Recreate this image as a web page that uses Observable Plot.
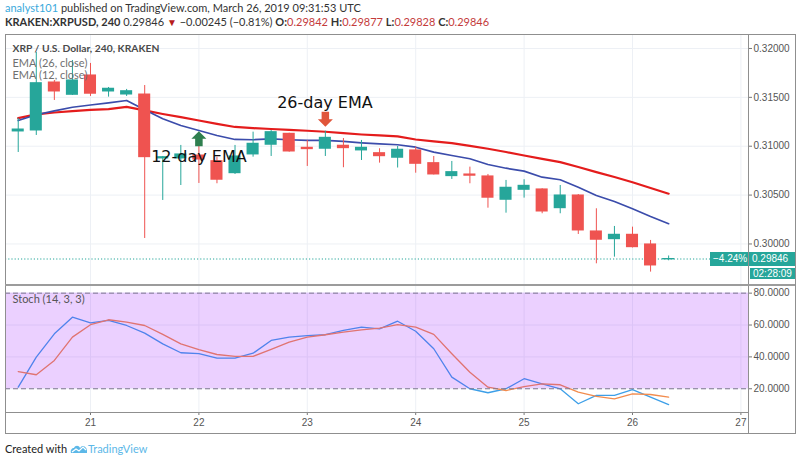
<!DOCTYPE html>
<html><head><meta charset="utf-8">
<script src="https://cdn.jsdelivr.net/npm/d3@7"></script>
<script src="https://cdn.jsdelivr.net/npm/@observablehq/plot@0.6"></script>
<style>
body{margin:0;background:#fff;}
#wrap{position:relative;width:800px;height:462px;overflow:hidden;font-family:Lato,sans-serif;background:#fff;}
.abs{position:absolute;}
.hdr{position:absolute;left:5px;font-size:11px;line-height:14px;color:#333;white-space:nowrap;}
.red{color:#c43b3b;}
.line{position:absolute;background:#8f8f8f;z-index:5;}
.box{position:absolute;background:#26a69a;color:#fff;font:10px "Liberation Sans",sans-serif;line-height:14px;white-space:nowrap;z-index:6;}
</style></head><body>
<div id="wrap">
  <div class="hdr" style="top:1px"><span style="color:#3aa9dc">analyst101</span> published on TradingView.com, March 26, 2019 09:31:53 UTC</div>
  <div class="hdr" style="top:15px"><b>KRAKEN:XRPUSD, 240</b> 0.29846 <span style="color:#b71c1c;font-size:10px">&#9660;</span> &minus;0.00245 (&minus;0.81%) <b>O:</b><span class="red">0.29842</span> <b>H:</b><span class="red">0.29877</span> <b>L:</b><span class="red">0.29828</span> <b>C:</b><span class="red">0.29846</span></div>
  <div id="price" class="abs" style="left:0;top:34px"></div>
  <div id="stoch" class="abs" style="left:0;top:285px"></div>
  <div class="line" style="left:5px;top:34px;width:790px;height:1px"></div>
  <div class="line" style="left:5px;top:433px;width:791px;height:1px"></div>
  <div class="line" style="left:5px;top:34px;width:1px;height:400px"></div>
  <div class="line" style="left:795px;top:34px;width:1px;height:400px"></div>
  <div class="line" style="left:748px;top:34px;width:1px;height:400px"></div>
  <div class="line" style="left:5px;top:284px;width:790px;height:2px;background:#9c9c9c"></div>
  <div class="line" style="left:5px;top:412px;width:743px;height:1px"></div>
  <div class="abs" style="left:5px;top:442px;font-size:11px;line-height:14px;color:#222;white-space:nowrap">Created with
    <svg width="18" height="11" viewBox="0 0 18 11" style="vertical-align:-1px"><path d="M1 10 C0 7 2 5 4 5 C5 2 9 2 10 5 L12 3 C15 3 17 5 17 8 L17 10 Z" fill="#5cb8e8"/><path d="M2 9 L6 6 L9 8 L13 4 L16 7" stroke="#fff" stroke-width="1.2" fill="none"/></svg><span style="color:#5cb8e8">TradingView</span></div>
</div>
<script>
const times = ["2019-03-20T08:00Z","2019-03-20T12:00Z","2019-03-20T16:00Z","2019-03-20T20:00Z",
"2019-03-21T00:00Z","2019-03-21T04:00Z","2019-03-21T08:00Z","2019-03-21T12:00Z","2019-03-21T16:00Z","2019-03-21T20:00Z",
"2019-03-22T00:00Z","2019-03-22T04:00Z","2019-03-22T08:00Z","2019-03-22T12:00Z","2019-03-22T16:00Z","2019-03-22T20:00Z",
"2019-03-23T00:00Z","2019-03-23T04:00Z","2019-03-23T08:00Z","2019-03-23T12:00Z","2019-03-23T16:00Z","2019-03-23T20:00Z",
"2019-03-24T00:00Z","2019-03-24T04:00Z","2019-03-24T08:00Z","2019-03-24T12:00Z","2019-03-24T16:00Z","2019-03-24T20:00Z",
"2019-03-25T00:00Z","2019-03-25T04:00Z","2019-03-25T08:00Z","2019-03-25T12:00Z","2019-03-25T16:00Z","2019-03-25T20:00Z",
"2019-03-26T00:00Z","2019-03-26T04:00Z","2019-03-26T08:00Z"];
const open = [0.31151,0.31161,0.31652,0.31526,0.31724,0.31560,0.31529,0.31529,0.30875,0.30875,0.30905,0.30847,0.30724,0.30916,0.31015,0.31127,0.30984,0.30974,0.31005,0.30957,0.30929,0.30882,0.30957,0.30827,0.30694,0.30711,0.30691,0.30452,0.30554,0.30558,0.30366,0.30496,0.30128,0.30049,0.30094,0.29995,0.29842];
const high = [0.31284,0.31959,0.31673,0.31877,0.31847,0.31601,0.31581,0.31621,0.30895,0.31008,0.31008,0.30888,0.31008,0.31144,0.31161,0.31133,0.31059,0.31154,0.31079,0.31059,0.30974,0.30997,0.30990,0.30895,0.30844,0.30786,0.30711,0.30650,0.30657,0.30565,0.30598,0.30506,0.30360,0.30179,0.30172,0.30036,0.29877];
const low = [0.30936,0.31110,0.31468,0.31519,0.31509,0.31502,0.31509,0.30056,0.30445,0.30598,0.30619,0.30616,0.30711,0.30888,0.30895,0.30939,0.30793,0.30895,0.30780,0.30854,0.30827,0.30777,0.30724,0.30706,0.30660,0.30616,0.30366,0.30315,0.30469,0.30309,0.30309,0.30097,0.29797,0.29865,0.29959,0.29712,0.29828];
const close = [0.31171,0.31645,0.31560,0.31673,0.31537,0.31588,0.31563,0.30888,0.30888,0.30916,0.30864,0.30657,0.30895,0.31025,0.31144,0.30946,0.30970,0.31086,0.30980,0.30984,0.30898,0.30964,0.30820,0.30711,0.30735,0.30698,0.30473,0.30575,0.30595,0.30332,0.30496,0.30138,0.30043,0.30094,0.29967,0.29780,0.29846];
const ema26 = [0.31287,0.31325,0.31345,0.31359,0.31371,0.31379,0.31402,0.31366,0.31330,0.31297,0.31263,0.31228,0.31197,0.31185,0.31176,0.31168,0.31158,0.31148,0.31133,0.31120,0.31110,0.31100,0.31069,0.31049,0.31031,0.31003,0.30974,0.30941,0.30905,0.30870,0.30837,0.30788,0.30735,0.30685,0.30632,0.30573,0.30514];
const ema12 = [0.31263,0.31322,0.31361,0.31399,0.31422,0.31444,0.31468,0.31373,0.31281,0.31212,0.31161,0.31110,0.31069,0.31066,0.31076,0.31066,0.31059,0.31059,0.31049,0.31035,0.31023,0.31015,0.30990,0.30939,0.30905,0.30872,0.30813,0.30775,0.30745,0.30683,0.30657,0.30581,0.30496,0.30435,0.30360,0.30281,0.30207];
const stochK = [21,39.8,54.5,64.9,61.4,62.9,59.7,54.9,48.2,42.6,42,39.2,39.2,42.3,50.3,52.4,53.4,53.9,56.6,58.7,57.6,62.4,56.1,45.1,27.3,20,17.5,20,26.3,23.1,20,10.6,15.8,15.8,19.4,14.7,10.1];
const stochD = [30.8,28.8,37.8,52.4,60.2,63.3,61.8,59.7,54.1,48.2,44.5,41.5,40.3,40.3,44.7,49.2,52.4,53.9,55.5,57,58,60.2,58.7,54.1,42,30.4,21,18.9,21.4,23.1,22.5,17.9,15.2,13.7,16.8,16.4,14.7];
const dayTicks = ["2019-03-21","2019-03-22","2019-03-23","2019-03-24","2019-03-25","2019-03-26","2019-03-27"];
const dayLabels = ["21","22","23","24","25","26","27"];
const priceTicks = [0.300,0.305,0.310,0.315,0.320];
const stochTicks = [20,40,60,80];
const lastPrice = 0.29846, changePct = "\u22124.24%", countdown = "02:28:09";
const notes = [
  {time:"2019-03-22T17:20Z", price:0.31448, text:"26-day EMA"},
  {time:"2019-03-21T13:26Z", price:0.30895, text:"12-day EMA"}
];
const upArrows = [{time:"2019-03-22T00:00Z", price:0.31076}];
const downArrows = [{time:"2019-03-23T04:00Z", price:0.31275}];

const TEAL = "#26a69a", RED = "#ef5350";
const data = times.map((t,i)=>({date:new Date(t), open:open[i], high:high[i], low:low[i], close:close[i], ema26:ema26[i], ema12:ema12[i], k:stochK[i], d:stochD[i], up: close[i]>=open[i]}));
const days = dayTicks.map(d=>new Date(d+"T00:00Z"));
const dayLabel = new Map(days.map((d,i)=>[+d, dayLabels[i]]));
const xDomain = [new Date("2019-03-20T05:11Z"), new Date("2019-03-27T01:41Z")];
const pd = s => s.map(o=>({...o, date:new Date(o.time)}));

function arrowSymbol(dir){
  return {draw(ctx, size){
    const r = Math.sqrt(size/Math.PI), s = dir;
    ctx.moveTo(0,-r*s); ctx.lineTo(r,0); ctx.lineTo(r*0.5,0); ctx.lineTo(r*0.5,r*s);
    ctx.lineTo(-r*0.5,r*s); ctx.lineTo(-r*0.5,0); ctx.lineTo(-r,0); ctx.closePath();
  }};
}
const style = {fontFamily:"'Liberation Sans',sans-serif", fontSize:"10px", color:"#4d4d4d", background:"transparent", overflow:"visible"};
const GRID = "#edf0f5";

const price = Plot.plot({
  width:800, height:251, marginLeft:5, marginRight:52, marginTop:0, marginBottom:0, style,
  x:{type:"utc", domain:xDomain, axis:null},
  y:{domain:[0.29575,0.32143], axis:null},
  marks:[
    Plot.ruleX(days, {stroke:GRID}),
    Plot.ruleY(priceTicks, {stroke:GRID}),
    Plot.axisY(priceTicks, {anchor:"right", tickSize:3, tickPadding:2, tickFormat:d=>d.toFixed(5), label:null, stroke:"#777", fill:"#555"}),
    Plot.ruleY([lastPrice], {stroke:TEAL, strokeDasharray:"1.2,2"}),
    Plot.line(data, {x:"date", y:"ema26", stroke:"#e41c1c", strokeWidth:2.2}),
    Plot.line(data, {x:"date", y:"ema12", stroke:"#3b4cab", strokeWidth:1.7}),
    Plot.ruleX(data, {x:"date", y1:"low", y2:"high", stroke:d=>d.up?TEAL:RED, strokeWidth:1}),
    Plot.rect(data, {x1:d=>d3.utcHour.offset(d.date,-2), x2:d=>d3.utcHour.offset(d.date,2), y1:"open", y2:"close", insetLeft:3, insetRight:3, insetTop:-0.5, insetBottom:-0.5, fill:d=>d.up?TEAL:RED}),
    Plot.dot(pd(upArrows), {x:"date", y:"price", r:7.5, symbol:arrowSymbol(1), fill:"#2f7f4f", stroke:"none"}),
    Plot.dot(pd(downArrows), {x:"date", y:"price", r:7.5, symbol:arrowSymbol(-1), fill:"#e0553a", stroke:"none"}),
    Plot.text(pd(notes), {x:"date", y:"price", text:"text", textAnchor:"start", lineAnchor:"middle", fontSize:16, fontFamily:"'DejaVu Sans',sans-serif", fill:"#111"}),
    Plot.text(["XRP / U.S. Dollar, 240, KRAKEN"], {frameAnchor:"top-left", dx:7, dy:14, lineAnchor:"middle", fontFamily:"Lato", fontSize:10.3, fontWeight:"bold", fill:"#4a4a4a"}),
    Plot.text(["EMA (26, close)"], {frameAnchor:"top-left", dx:7, dy:29, lineAnchor:"middle", fontFamily:"Lato", fontSize:11, fill:"#707070"}),
    Plot.text(["EMA (12, close)"], {frameAnchor:"top-left", dx:7, dy:41, lineAnchor:"middle", fontFamily:"Lato", fontSize:11, fill:"#707070"})
  ]
});
document.getElementById("price").appendChild(price);

const stoch = Plot.plot({
  width:800, height:148, marginLeft:5, marginRight:52, marginTop:0, marginBottom:21, style,
  x:{type:"utc", domain:xDomain, axis:null},
  y:{domain:[5.1,84.8], axis:null},
  marks:[
    Plot.ruleX(days, {stroke:GRID}),
    Plot.ruleY(stochTicks, {stroke:GRID}),
    Plot.line(data, {x:"date", y:"k", stroke:"#3d9fe8", strokeWidth:1.3}),
    Plot.line(data, {x:"date", y:"d", stroke:"#f28c4e", strokeWidth:1.3}),
    Plot.rect([{lo:20, hi:80}], {y1:"lo", y2:"hi", fill:"#9915ff", fillOpacity:0.2}),
    Plot.ruleY([20,80], {stroke:"#7d7590", strokeDasharray:"5,3"}),
    Plot.axisY(stochTicks, {anchor:"right", tickSize:3, tickPadding:2, tickFormat:d=>d.toFixed(4), label:null, stroke:"#777", fill:"#555"}),
    Plot.axisX(days, {anchor:"bottom", tickSize:3, tickPadding:3, tickFormat:d=>dayLabel.get(+d), label:null, stroke:"#777", fill:"#555"}),
    Plot.text(["Stoch (14, 3, 3)"], {frameAnchor:"top-left", dx:7, dy:14, lineAnchor:"middle", fontFamily:"Lato", fontSize:11, fill:"#555"})
  ]
});
document.getElementById("stoch").appendChild(stoch);

// price labels on the right axis, positioned through the y scale
const py = 34 + price.scale("y").apply(lastPrice);
const wrap = document.getElementById("wrap");
function box(left, top, width, height, text, align){
  const b = document.createElement("div");
  b.className = "box";
  Object.assign(b.style, {left:left+"px", top:top+"px", width:width+"px", height:height+"px", lineHeight:height+"px", textAlign:align, padding:"0 3px", boxSizing:"border-box"});
  b.textContent = text;
  wrap.appendChild(b);
}
box(749, py-7, 46, 14, lastPrice.toFixed(5), "left");
box(710, py-7, 38, 14, changePct, "right");
box(750, py+9, 45, 11, countdown, "left");
</script>
</body></html>
